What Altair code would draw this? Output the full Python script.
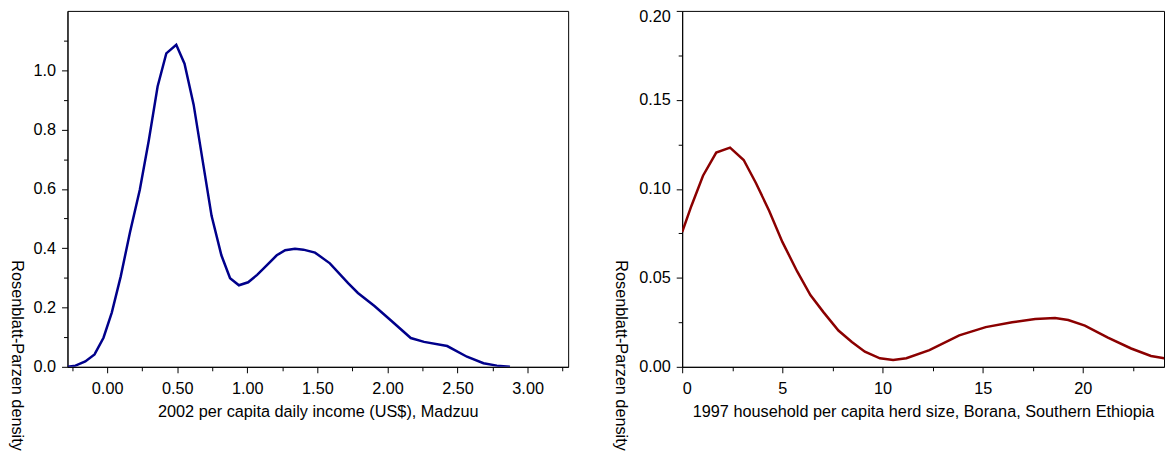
import altair as alt
import pandas as pd

# Left panel: 2002 per capita daily income density (Madzuu)
income_x = [-0.28, -0.226, -0.156, -0.09, -0.026, 0.033, 0.097, 0.163, 0.233, 0.297,
            0.36, 0.422, 0.493, 0.552, 0.617, 0.681, 0.745, 0.815, 0.877, 0.94,
            1.006, 1.07, 1.14, 1.21, 1.27, 1.34, 1.40, 1.483, 1.589, 1.719,
            1.789, 1.907, 2.025, 2.166, 2.261, 2.426, 2.567, 2.685, 2.78, 2.874]
income_y = [0.0, 0.004, 0.018, 0.042, 0.098, 0.183, 0.305, 0.454, 0.597, 0.763,
            0.945, 1.057, 1.086, 1.022, 0.884, 0.696, 0.509, 0.376, 0.299, 0.275,
            0.285, 0.31, 0.343, 0.376, 0.393, 0.398, 0.395, 0.385, 0.349, 0.282,
            0.249, 0.205, 0.156, 0.097, 0.084, 0.07, 0.034, 0.012, 0.004, 0.0]

# Right panel: 1997 household per capita herd size density (Borana)
herd_x = [0, 0.46, 1.04, 1.70, 2.39, 3.07, 3.68, 4.34, 5.0, 5.74, 6.4, 7.06, 7.8,
          8.47, 9.12, 9.87, 10.53, 11.19, 12.34, 13.83, 15.15, 16.47, 17.62, 18.61,
          19.27, 20.1, 21.25, 22.41, 23.4, 24.06]
herd_y = [0.0757, 0.0904, 0.1074, 0.1204, 0.1232, 0.1162, 0.1033, 0.0877, 0.0702,
          0.0536, 0.0403, 0.0306, 0.0204, 0.014, 0.0085, 0.0048, 0.0039, 0.0048,
          0.0094, 0.0177, 0.0223, 0.025, 0.0269, 0.0274, 0.0263, 0.0232, 0.0164,
          0.0103, 0.0061, 0.0048]

income_ticks_x = [-0.25 + 0.25 * i for i in range(15)]
income_ticks_y = [round(0.1 * i, 2) for i in range(12)]
herd_ticks_x = [2.5 * i for i in range(10)]
herd_ticks_y = [round(0.025 * i, 3) for i in range(9)]

FONT = "Liberation Sans"
FS = 16.4

df_income = pd.DataFrame({"x": income_x, "y": income_y})
df_herd = pd.DataFrame({"x": herd_x, "y": herd_y})


def tick_size(test):
    return {"condition": {"test": test, "value": 6}, "value": 4}


common_axis = dict(
    domainColor="black", tickColor="black", labelColor="black", titleColor="black",
    labelFont=FONT, titleFont=FONT, labelFontSize=FS, titleFontSize=FS,
    titleFontWeight="normal", grid=False, labelOverlap=False, ticks=True,
)

left = alt.Chart(df_income).mark_line(color="#00008b", strokeWidth=2.5, clip=True).encode(
    x=alt.X("x:Q", scale=alt.Scale(domain=[-0.283, 3.289], nice=False, zero=False),
            axis=alt.Axis(title="2002 per capita daily income (US$), Madzuu",
                          values=income_ticks_x,
                          labelExpr="(round(datum.value*4) % 2 == 0) ? format(datum.value, '.2f') : ''",
                          tickSize=tick_size("round(datum.value*4) % 2 == 0"),
                          labelPadding=8, titleY=50, titleBaseline="alphabetic",
                          **common_axis)),
    y=alt.Y("y:Q", scale=alt.Scale(domain=[0, 1.2], nice=False),
            axis=alt.Axis(title="Rosenblatt-Parzen density",
                          values=income_ticks_y,
                          labelExpr="(round(datum.value*10) % 2 == 0) ? format(datum.value, '.1f') : ''",
                          tickSize=tick_size("round(datum.value*10) % 2 == 0"),
                          labelPadding=6, titleAngle=90, titleAlign="left",
                          titleBaseline="alphabetic", titleX=-56, titleY=251,
                          **common_axis)),
).properties(width=505, height=359)

right = alt.Chart(df_herd).mark_line(color="#8b0000", strokeWidth=2.5, clip=True).encode(
    x=alt.X("x:Q", scale=alt.Scale(domain=[0, 24.05], nice=False, zero=False),
            axis=alt.Axis(title="1997 household per capita herd size, Borana, Southern Ethiopia",
                          values=herd_ticks_x,
                          labelExpr="(round(datum.value*2) % 2 == 0) ? format(datum.value, 'd') : ''",
                          tickSize=tick_size("round(datum.value*2) % 2 == 0"),
                          labelPadding=8, titleY=50, titleBaseline="alphabetic",
                          **common_axis)),
    y=alt.Y("y:Q", scale=alt.Scale(domain=[0, 0.2], nice=False),
            axis=alt.Axis(title="Rosenblatt-Parzen density",
                          values=herd_ticks_y,
                          labelExpr="(round(datum.value*40) % 2 == 0) ? format(datum.value, '.2f') : ''",
                          tickSize=tick_size("round(datum.value*40) % 2 == 0"),
                          labelBaseline="middle",
                          labelOffset={"condition": {"test": "datum.value >= 0.2", "value": 6}, "value": 0},
                          labelPadding=6, titleAngle=90, titleAlign="left",
                          titleBaseline="alphabetic", titleX=-67, titleY=251,
                          **common_axis)),
).properties(width=486, height=359)

chart = alt.hconcat(left, right, spacing=43).properties(
    padding={"left": 0, "top": -2, "right": 0, "bottom": 0},
    background="white",
).configure_view(stroke="black", strokeWidth=1)

chart.save("out.html", embed_options={"renderer": "svg", "actions": False})
